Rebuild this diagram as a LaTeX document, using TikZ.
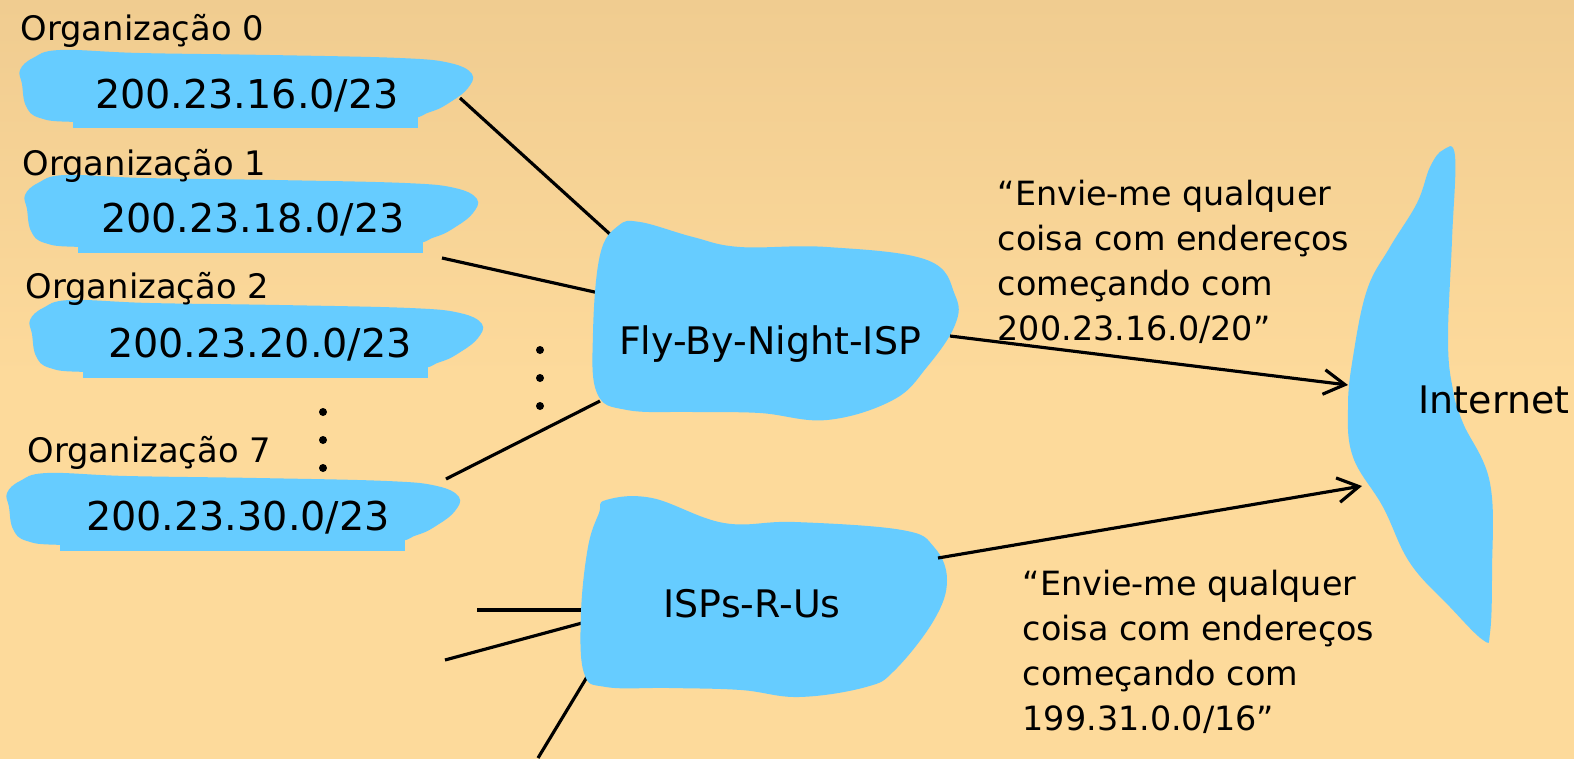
\documentclass[tikz,border=0pt]{standalone}
\usepackage{fontspec}
\setmainfont{DejaVu Sans}
\usetikzlibrary{arrows.meta}
\definecolor{cloud}{HTML}{66CCFF}
\definecolor{bgtop}{HTML}{F0CC90}
\definecolor{bgbot}{HTML}{FDDA9B}
\tikzset{
  blob/.style={fill=cloud},
  ln/.style={draw=black, line width=0.9pt},
  a/.style={ln, -{Straight Barb[length=6pt, width=7pt]}},
  addr/.style={font=\fontsize{11.3}{13}\selectfont, inner sep=0pt, anchor=base},
  org/.style={font=\fontsize{9.6}{11}\selectfont, inner sep=0pt, anchor=base west},
  isp/.style={font=\fontsize{10.8}{13}\selectfont, inner sep=0pt, anchor=base},
  msg/.style={font=\fontsize{9.5}{12.8}\selectfont, align=left, inner sep=0pt, anchor=base west},
}
% one organisation's address block, shifted to its top left corner
\newcommand{\orgcloud}[1]{%
  \fill[blob, shift={#1}] plot[smooth cycle, tension=0.65] coordinates {(0,20) (13,8) (40,0) (120,3) (250,5) (380,8) (430,13) (452,24) (448,38) (432,51) (410,62) (370,70) (200,72) (60,72) (20,68) (6,56) (2,34)};
  \fill[blob, shift={#1}] (53,55) rectangle (398,78);}

\begin{document}
\begin{tikzpicture}[x=0.1mm, y=-0.1mm]
\shade[top color=bgtop, bottom color=bgbot, middle color=bgbot] (0,0) rectangle (1574,758);
\useasboundingbox (0,0) rectangle (1574,758);

% edge points of the clouds
\coordinate (org0-e) at (460,98);
\coordinate (org1-e) at (442,258);
\coordinate (org7-e) at (446,479);
\coordinate (fbn-nw) at (612,236);
\coordinate (fbn-w) at (599,293);
\coordinate (fbn-sw) at (600,401);
\coordinate (fbn-e) at (950,336);
\coordinate (isp-e) at (938,558);
\coordinate (isp-w1) at (582,610);
\coordinate (isp-w2) at (582,623);
\coordinate (isp-sw) at (590,672);
\coordinate (in1) at (1348,385);
\coordinate (in2) at (1362,486);
\coordinate (x1) at (477,610);
\coordinate (x2) at (445,660);
\coordinate (x3) at (538,758);

\draw[ln] (org0-e) -- (fbn-nw);
\draw[ln] (org1-e) -- (fbn-w);
\draw[ln] (org7-e) -- (fbn-sw);
\draw[ln] (x1) -- (isp-w1);
\draw[ln] (x2) -- (isp-w2);
\draw[ln] (x3) -- (isp-sw);

\orgcloud{(20,50)}
\orgcloud{(25,175)}
\orgcloud{(30,300)}
\orgcloud{(7,473)}

\fill[blob] plot[smooth cycle, tension=0.65] coordinates {(640,222) (693,237) (740,247) (827,247) (927,260) (955,295) (955,325) (927,367) (893,400) (827,420) (760,413) (693,412) (627,410) (597,393) (593,333) (600,255) (618,226)};
\fill[blob] plot[smooth cycle, tension=0.65] coordinates {(606,500) (652,498) (724,523) (795,522) (902,530) (934,547) (947,580) (934,620) (895,670) (866,687) (799,697) (741,690) (670,688) (606,687) (584,673) (581,613) (588,547) (599,513)};
\fill[blob] plot[smooth cycle, tension=0.65] coordinates {(1443,150) (1455,156) (1452,240) (1448,340) (1453,390) (1463,423) (1490,483) (1492,573) (1490,633) (1483,640) (1450,607) (1410,563) (1383,507) (1353,457) (1348,407) (1353,357) (1367,290) (1390,247) (1417,203) (1430,167)};

\draw[a] (fbn-e) -- (in1);
\draw[a] (isp-e) -- (in2);

\node[org] (org0-lbl) at (20,40) {Organização 0};
\node[org] (org1-lbl) at (22,175) {Organização 1};
\node[org] (org2-lbl) at (25,298) {Organização 2};
\node[org] (org7-lbl) at (27,462) {Organização 7};
\node[addr] (org0) at (247,108) {200.23.16.0/23};
\node[addr] (org1) at (253,232) {200.23.18.0/23};
\node[addr] (org2) at (260,357) {200.23.20.0/23};
\node[addr] (org7) at (238,530) {200.23.30.0/23};

\node[isp] (fbn) at (770,354) {Fly-By-Night-ISP};
\node[isp] (isp) at (752,617) {ISPs-R-Us};
\node[isp] (inet) at (1494,413) {Internet};

\node[msg] (fbn-msg) at (997,340) {“Envie-me qualquer\\coisa com endereços\\começando com\\200.23.16.0/20”};
\node[msg] (isp-msg) at (1022,730) {“Envie-me qualquer\\coisa com endereços\\começando com\\199.31.0.0/16”};

\foreach \y in {350,378,406} \fill (540,\y) circle (4);
\foreach \y in {412,440,468} \fill (323,\y) circle (4);
\end{tikzpicture}
\end{document}
